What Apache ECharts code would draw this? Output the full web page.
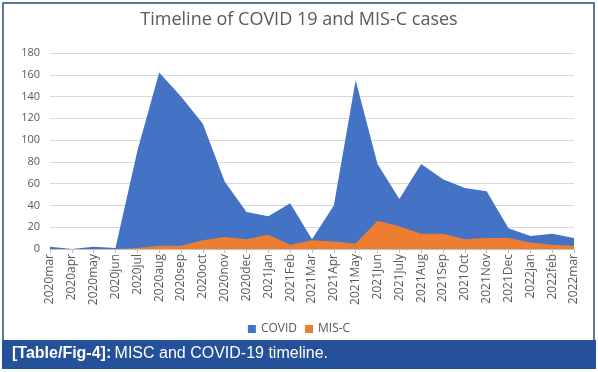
<!DOCTYPE html>
<html>
<head>
<meta charset="utf-8">
<script src="https://cdn.jsdelivr.net/npm/echarts@6/dist/echarts.min.js"></script>
<style>html,body{margin:0;padding:0;background:#fff}#c{width:598px;height:372px}</style>
</head>
<body>
<div id="c"></div>
<script>
const categories = ['2020mar','2020apr','2020may','2020jun','2020jul','2020aug','2020sep','2020oct','2020nov','2020dec',
  '2021Jan','2021Feb','2021Mar','2021Apr','2021May','2021Jun','2021July','2021Aug','2021Sep','2021Oct','2021Nov','2021Dec',
  '2022jan','2022feb','2022mar'];
const covid = [2,0,2,1,90,162,140,115,62,34,30,42,9,40,155,78,46,78,64,56,53,19,12,14,10];
const misc  = [0,0,0,0,1,3,3,8,11,9,13,4,8,7,5,26,21,14,14,9,10,10,6,4,3];
const yTicks = {min:0, max:180, interval:20};

const chart = echarts.init(document.getElementById('c'));
chart.setOption({
  animation:false,
  title:{text:'Timeline of COVID 19 and MIS-C cases', left:'center', top:6,
    textStyle:{fontFamily:'Open Sans', fontSize:18, fontWeight:'normal', color:'#595959'}},
  legend:{data:['COVID','MIS-C'], top:318, left:'center', icon:'rect', itemWidth:8, itemHeight:8, itemGap:8,
    textStyle:{fontFamily:'Open Sans', fontSize:12, color:'#595959'}},
  grid:{left:50, right:24, top:53, bottom:123},
  xAxis:{type:'category', data:categories, boundaryGap:false,
    axisLine:{lineStyle:{color:'#bfbfbf'}},
    axisTick:{show:true, lineStyle:{color:'#bfbfbf'}, length:4},
    axisLabel:{rotate:90, interval:0, fontFamily:'Open Sans', fontSize:12, color:'#595959', margin:5}},
  yAxis:{type:'value', min:yTicks.min, max:yTicks.max, interval:yTicks.interval,
    axisLine:{show:false}, axisTick:{show:false},
    splitLine:{lineStyle:{color:'#d9d9d9'}},
    axisLabel:{fontFamily:'Open Sans', fontSize:11, color:'#595959', margin:10}},
  series:[
    {name:'COVID', type:'line', data:covid, symbol:'none', lineStyle:{width:0}, itemStyle:{color:'#4472c4'},
      areaStyle:{color:'#4472c4', opacity:1}},
    {name:'MIS-C', type:'line', data:misc, symbol:'none', lineStyle:{width:0}, itemStyle:{color:'#ed7d31'},
      areaStyle:{color:'#ed7d31', opacity:1}}
  ],
  graphic:[
    {type:'rect', shape:{x:3, y:3, width:591, height:338}, style:{fill:'none', stroke:'#2b4a7e', lineWidth:1.5}, z:-1},
    {type:'rect', shape:{x:2, y:340, width:594, height:29}, style:{fill:'#25509a'}},
    {type:'text', left:12, top:346, style:{
      text:'{b|[Table/Fig-4]:} {n|MISC and COVID-19 timeline.}',
      rich:{b:{fontFamily:'Liberation Sans', fontWeight:'bold', fontSize:16, fill:'#fff'},
            n:{fontFamily:'Liberation Sans', fontSize:16, fill:'#fff'}}}}
  ]
});
</script>
</body>
</html>
